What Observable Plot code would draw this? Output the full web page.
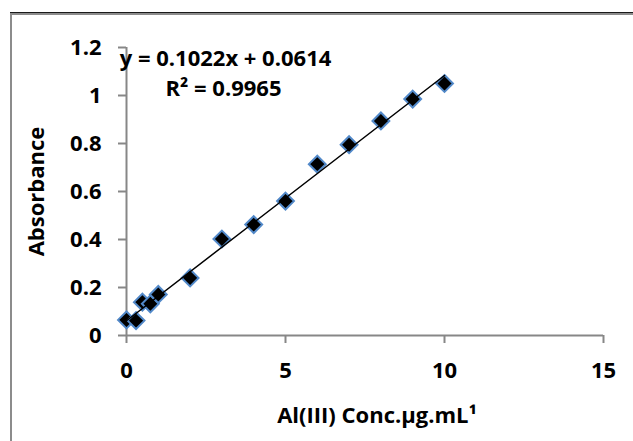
<!DOCTYPE html>
<html>
<head>
<meta charset="utf-8">
<script src="https://cdn.jsdelivr.net/npm/d3@7"></script>
<script src="https://cdn.jsdelivr.net/npm/@observablehq/plot@0.6"></script>
<style>
  html, body { margin: 0; padding: 0; background: #fff; overflow: hidden; }
  #wrap { position: relative; width: 633px; height: 441px; overflow: hidden; background: #fff; }
  #frameTop { position: absolute; left: 10px; top: 12px; width: 700px; height: 1px; background: #1a1a1a; }
  #frame { position: absolute; left: 10px; top: 13px; width: 700px; height: 500px;
           border-top: 2px solid #8c8c8c; border-left: 2px solid #8c8c8c; box-sizing: border-box; }
  #chart { position: absolute; left: 0; top: 0; }
</style>
</head>
<body>
<div id="wrap">
  <div id="frame"></div>
  <div id="frameTop"></div>
  <div id="chart"></div>
</div>
<script>
// Data
const concentration = [0, 0.3, 0.5, 0.75, 1, 2, 3, 4, 5, 6, 7, 8, 9, 10];
const absorbance    = [0.065, 0.062, 0.139, 0.132, 0.171, 0.240, 0.402, 0.462, 0.560, 0.714, 0.795, 0.894, 0.985, 1.050];

// Trendline coefficients (as printed in the chart)
const slope = 0.1022;
const intercept = 0.0614;
const rSquared = 0.9965;

const xTicks = [0, 5, 10, 15];
const yTicks = [0, 0.2, 0.4, 0.6, 0.8, 1, 1.2];
const xLabel = "Al(III) Conc.\u00b5g.mL\u00b9";
const yLabel = "Absorbance";
const eqLine1 = "y = 0.1022x + 0.0614";
const eqLine2 = "R\u00b2 = 0.9965";

const points = concentration.map((c, i) => ({x: c, y: absorbance[i]}));
const xMin = d3.min(concentration), xMax = d3.max(concentration);
const trend = [xMin, xMax].map(x => ({x, y: slope * x + intercept}));

const axisGrey = "#878787";
const FS = 22;

const chart = Plot.plot({
  width: 633,
  height: 441,
  marginLeft: 126,
  marginRight: 30,
  marginTop: 47,
  marginBottom: 106,
  style: {fontFamily: "'Open Sans', Lato, sans-serif", fontSize: FS + "px", fontWeight: "bold", color: "black", background: "transparent"},
  x: {domain: [0, 15]},
  y: {domain: [0, 1.2]},
  marks: [
    Plot.ruleY([0], {stroke: axisGrey, strokeWidth: 2, x1: 0, x2: 15}),
    Plot.ruleX([0], {stroke: axisGrey, strokeWidth: 2, y1: 0, y2: 1.2}),
    Plot.axisX({ticks: xTicks, tickSize: 8, tickPadding: 19, stroke: axisGrey, strokeWidth: 2, fill: "black", tickFormat: d => String(d), label: null}),
    Plot.axisY({ticks: yTicks, tickSize: 8, tickPadding: 17, stroke: axisGrey, strokeWidth: 2, fill: "black", tickFormat: d => String(d), label: null}),
    Plot.dot(points, {x: "x", y: "y", symbol: "diamond2", r: 7.6, fill: "black", stroke: "#5289c9", strokeWidth: 2}),
    Plot.line(trend, {x: "x", y: "y", stroke: "black", strokeWidth: 1.5}),
    Plot.text([eqLine1], {frameAnchor: "top-left", dx: 99, dy: 11, textAnchor: "middle", lineAnchor: "middle", fontSize: FS, fontWeight: "bold", fill: "black"}),
    Plot.text([eqLine2], {frameAnchor: "top-left", dx: 97, dy: 41, textAnchor: "middle", lineAnchor: "middle", fontSize: FS, fontWeight: "bold", fill: "black"}),
    Plot.text([xLabel], {frameAnchor: "bottom", dx: 12, dy: 80, textAnchor: "middle", lineAnchor: "middle", fontSize: FS, fontWeight: "bold", fill: "black"}),
    Plot.text([yLabel], {frameAnchor: "left", dx: -90, rotate: -90, textAnchor: "middle", lineAnchor: "middle", fontSize: FS, fontWeight: "bold", fill: "black"})
  ]
});
document.getElementById("chart").appendChild(chart);
</script>
</body>
</html>
